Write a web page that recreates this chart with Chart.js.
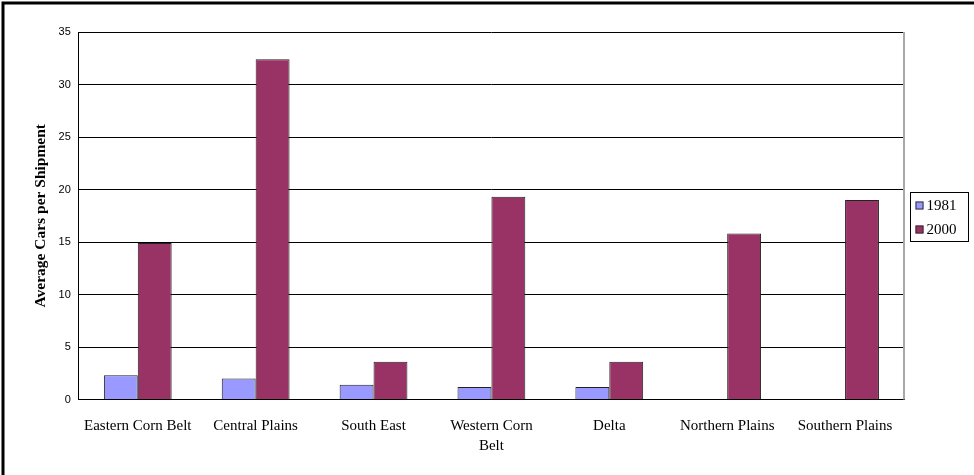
<!DOCTYPE html>
<html>
<head>
<meta charset="utf-8">
<script src="https://cdn.jsdelivr.net/npm/chart.js@4/dist/chart.umd.min.js"></script>
<style>
  html, body { margin: 0; padding: 0; background: #fff; }
  #wrap { width: 974px; height: 475px; }
</style>
</head>
<body>
<div id="wrap"><canvas id="chart" width="974" height="475"></canvas></div>
<script>
const regions = ['Eastern Corn Belt', 'Central Plains', 'South East', ['Western Corn', 'Belt'], 'Delta', 'Northern Plains', 'Southern Plains'];
const cars1981 = [2.3, 2.0, 1.4, 1.2, 1.2, null, null];
const cars2000 = [14.9, 32.4, 3.6, 19.3, 3.6, 15.8, 19.0];
const yTicks = [0, 5, 10, 15, 20, 25, 30, 35];

const serif = '"Liberation Serif", "Times New Roman", serif';

// outer frame, grey plot edge and a boxed legend beside the plot
const frames = {
  id: 'frames',
  beforeDraw(chart) {
    const ctx = chart.ctx;
    ctx.save();
    ctx.fillStyle = '#fff';
    ctx.fillRect(0, 0, chart.width, chart.height);
    ctx.strokeStyle = '#000';
    ctx.lineWidth = 3;
    ctx.strokeRect(3, 3, chart.width + 10, chart.height + 10);
    ctx.restore();
  },
  afterDraw(chart) {
    const ctx = chart.ctx;
    const a = chart.chartArea;
    ctx.save();
    ctx.strokeStyle = '#a8a8a8';
    ctx.lineWidth = 2;
    ctx.beginPath();
    ctx.moveTo(a.right, a.top);
    ctx.lineTo(a.right, a.bottom);
    ctx.stroke();

    // legend
    const bx = Math.round(a.right) + 6.5;
    const by = Math.round((a.top + a.bottom) / 2) - 23.5;
    const bw = 58, bh = 49;
    ctx.strokeStyle = '#000';
    ctx.lineWidth = 1;
    ctx.strokeRect(bx, by, bw, bh);
    ctx.font = '15px ' + serif;
    ctx.textBaseline = 'middle';
    chart.data.datasets.forEach((ds, i) => {
      const cy = by + 13 + i * 24;
      ctx.fillStyle = ds.backgroundColor;
      ctx.fillRect(bx + 5, cy - 4, 8, 8);
      ctx.strokeStyle = '#333';
      ctx.strokeRect(bx + 5.5, cy - 3.5, 7, 7);
      ctx.fillStyle = '#000';
      ctx.fillText(ds.label, bx + 16, cy + 1);
    });
    ctx.restore();
  }
};

new Chart(document.getElementById('chart'), {
  type: 'bar',
  data: {
    labels: regions,
    datasets: [
      { label: '1981', data: cars1981, backgroundColor: '#9999ff', borderColor: '#222', borderWidth: 1 },
      { label: '2000', data: cars2000, backgroundColor: '#993366', borderColor: '#222', borderWidth: 1 }
    ]
  },
  options: {
    responsive: false,
    animation: false,
    layout: { padding: { top: 32, left: 28, right: 70, bottom: 3 } },
    datasets: { bar: { categoryPercentage: 0.575, barPercentage: 1 } },
    plugins: {
      tooltip: { enabled: false },
      legend: { display: false }
    },
    scales: {
      x: {
        grid: { display: false, drawTicks: false },
        border: { color: '#000', width: 1 },
        ticks: {
          autoSkip: false,
          maxRotation: 0,
          padding: 16,
          color: '#000',
          font: { family: serif, size: 15, lineHeight: 1.35 }
        }
      },
      y: {
        min: 0,
        max: 35,
        afterBuildTicks(axis) { axis.ticks = yTicks.map(v => ({ value: v })); },
        grid: { color: '#000', drawTicks: false, lineWidth: 1 },
        border: { color: '#000', width: 1 },
        ticks: {
          padding: 8,
          color: '#000',
          font: { family: '"Liberation Sans", Arial, sans-serif', size: 11 }
        },
        title: {
          display: true,
          text: 'Average Cars per Shipment',
          color: '#000',
          padding: { bottom: 0 },
          font: { family: serif, size: 15.5, weight: 'bold' }
        }
      }
    }
  },
  plugins: [frames]
});
</script>
</body>
</html>
